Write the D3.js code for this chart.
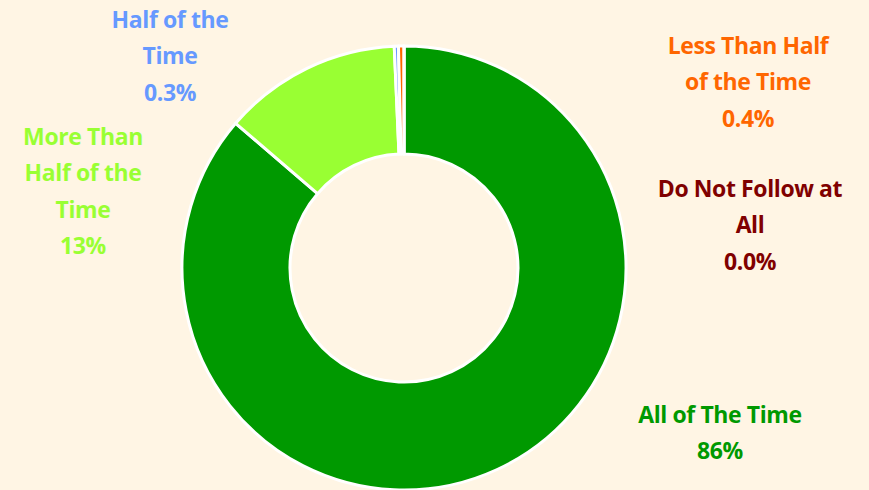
<!DOCTYPE html>
<html><head><meta charset="utf-8">
<script src="https://cdn.jsdelivr.net/npm/d3@7"></script>
<style>html,body{margin:0;padding:0;background:#fff5e4;}svg{display:block;}</style>
</head><body>
<svg id="c" width="869" height="490"></svg>
<script>
const categories = ["All of The Time", "More Than Half of the Time", "Half of the Time", "Less Than Half of the Time", "Do Not Follow at All"];
const values = [86.3, 13.0, 0.3, 0.4, 0.0];
const valueLabels = ["86%", "13%", "0.3%", "0.4%", "0.0%"];
const colors = ["#009900", "#99ff33", "#6699ff", "#ff6600", "#800000"];
const labelLines = [
  ["All of The Time"],
  ["More Than", "Half of the", "Time"],
  ["Half of the", "Time"],
  ["Less Than Half", "of the Time"],
  ["Do Not Follow at", "All"]
];
const labelPos = [[720, 423], [83, 145], [170, 28], [748, 54], [750, 197]];

const svg = d3.select("#c");
svg.append("rect").attr("width", 869).attr("height", 490).attr("fill", "#fff5e4");

const cx = 404, cy = 268, rOut = 222, rIn = 114;
const pie = d3.pie().sort(null).value(d => d)(values);
const arc = d3.arc().innerRadius(rIn).outerRadius(rOut);
const g = svg.append("g").attr("transform", `translate(${cx},${cy})`);
g.selectAll("path").data(pie).join("path")
  .attr("d", arc)
  .attr("fill", (d, i) => colors[i])
  .attr("stroke", "#ffffff")
  .attr("stroke-width", 3)
  .attr("stroke-linejoin", "round");

const lh = 36.3;
categories.forEach((c, i) => {
  const lines = labelLines[i].concat([valueLabels[i]]);
  const t = svg.append("text")
    .attr("x", labelPos[i][0]).attr("y", labelPos[i][1])
    .attr("text-anchor", "middle")
    .attr("font-family", "'Open Sans', Lato, sans-serif")
    .attr("font-weight", "bold")
    .attr("font-size", 23)
    .attr("letter-spacing", -0.4)
    .attr("fill", colors[i]);
  lines.forEach((l, j) => {
    t.append("tspan").attr("x", labelPos[i][0]).attr("dy", j === 0 ? 0 : lh).text(l);
  });
});
</script>
</body></html>
